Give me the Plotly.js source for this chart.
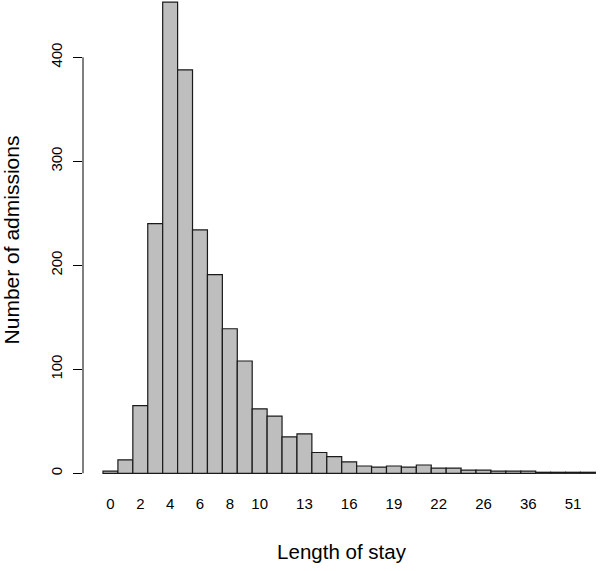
<!DOCTYPE html>
<html>
<head>
<meta charset="utf-8">
<script src="https://cdn.plot.ly/plotly-3.0.1.min.js"></script>
<style>html,body{margin:0;padding:0;background:#fff;}#chart{width:600px;height:571px;}</style>
</head>
<body>
<div id="chart"></div>
<script>
// Length of stay (days) present in the data
var stayDays = [0,1,2,3,4,5,6,7,8,9,10,11,12,13,14,15,16,17,18,19,20,21,22,23,24,26,28,30,36,40,45,51,62];
// Number of admissions for each length of stay
var admissions = [2,13,65,240,453,388,234,191,139,108,62,55,35,38,20,16,11,7,6,7,6,8,5,5,3,3,2,2,2,1,1,1,1];
// Tick labels that are visible on the x axis
var xTickLabels = ["0","2","4","6","8","10","13","16","19","22","26","36","51"];
var yTickValues = [0,100,200,300,400];

var cats = stayDays.map(String);
var font = "Liberation Sans, Arial, Helvetica, sans-serif";

var trace = {
  type: "bar",
  x: cats,
  y: admissions,
  marker: {color: "#BEBEBE", line: {color: "#1a1a1a", width: 1.2}},
  hoverinfo: "x+y"
};

var layout = {
  width: 600, height: 571,
  paper_bgcolor: "#ffffff", plot_bgcolor: "#ffffff",
  margin: {l: 83, r: 0, t: 0, b: 91},
  bargap: 0,
  showlegend: false,
  font: {family: font, color: "#000000", size: 15},
  xaxis: {
    type: "category",
    range: [-1.84, 32.81],
    tickmode: "array",
    tickvals: xTickLabels,
    ticktext: xTickLabels,
    showline: false, showgrid: false, zeroline: false,
    ticks: "",
    tickfont: {family: font, size: 15, color: "#000"},
    ticklabelstandoff: 13,
    title: {text: "Length of stay", font: {family: font, size: 20.5, color: "#000"}, standoff: 33}
  },
  yaxis: {
    range: [-6.44, 455.1],
    tickmode: "array",
    tickvals: yTickValues,
    ticktext: yTickValues.map(String),
    tickangle: -90,
    showline: false, showgrid: false, zeroline: false,
    ticks: "outside", ticklen: 9, tickwidth: 1, tickcolor: "#000",
    tickfont: {family: font, size: 15, color: "#000"},
    ticklabelstandoff: 5,
    title: {text: "Number of admissions", font: {family: font, size: 21, color: "#000"}, standoff: 28}
  },
  shapes: [{
    type: "line", xref: "paper", yref: "y",
    x0: 0, x1: 0, y0: yTickValues[0], y1: yTickValues[yTickValues.length - 1],
    line: {color: "#000", width: 1}
  }]
};

Plotly.newPlot("chart", [trace], layout, {displayModeBar: false, staticPlot: true});
</script>
</body>
</html>
